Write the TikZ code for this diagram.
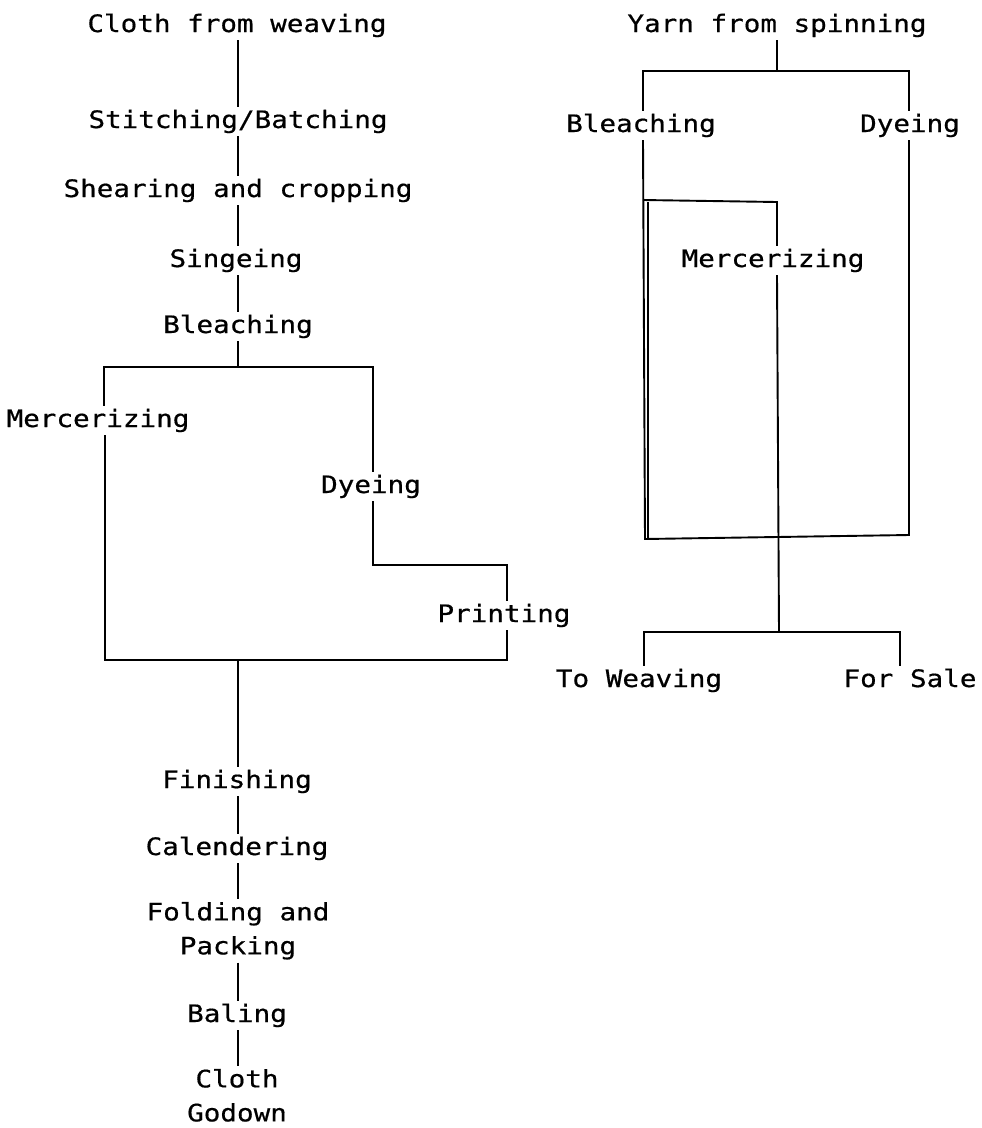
\documentclass[tikz,border=0pt]{standalone}
\usepackage{fontspec}
\newfontfamily\dotfont{DejaVu Sans Mono}[FakeStretch=1.15,FakeBold=0.6]
\begin{document}
\begin{tikzpicture}[x=1pt,y=-1pt,
  lbl/.style={font=\dotfont\fontsize{24}{34}\selectfont, inner sep=0pt, outer sep=3pt, anchor=base},
  lblm/.style={lbl, align=center, anchor=north},
  ln/.style={line width=1.9pt, black}]
\useasboundingbox (0,0) rectangle (982,1128);

% ---------- left flow (cloth) ----------
\coordinate (Lx) at (238,0);
\node[lbl] (cw) at (237,32) {Cloth from weaving};
\node[lbl] (sb) at (238,128) {Stitching/Batching};
\node[lbl] (sc) at (238,197) {Shearing and cropping};
\node[lbl] (sg) at (236,267) {Singeing};
\node[lbl] (bl) at (238,333) {Bleaching};
\node[lbl] (me) at (98,427) {Mercerizing};
\node[lbl] (dy) at (371,493) {Dyeing};
\node[lbl] (pr) at (504,622) {Printing};
\node[lbl] (fi) at (237,788) {Finishing};
\node[lbl] (ca) at (237,855) {Calendering};
\node[lblm] (fp) at (238,899) {Folding and\\Packing};
\node[lbl] (ba) at (237,1022) {Baling};
\node[lblm] (cg) at (237,1066) {Cloth\\Godown};

\coordinate (tl) at (104,367);
\coordinate (tm) at (238,367);
\coordinate (tr) at (373,367);
\coordinate (dl) at (373,565);
\coordinate (dr) at (507,565);
\coordinate (bL) at (105,660);
\coordinate (bM) at (238,660);
\coordinate (bR) at (507,660);

\draw[ln] (cw.south -| Lx) -- (sb.north -| Lx);
\draw[ln] (sb.south -| Lx) -- (sc.north -| Lx);
\draw[ln] (sc.south -| Lx) -- (sg.north -| Lx);
\draw[ln] (sg.south -| Lx) -- (bl.north -| Lx);
\draw[ln] (bl.south -| Lx) -- (tm);
\draw[ln] (me.north -| tl) -- (tl) -- (tr) -- (dy.north -| tr);
\draw[ln] (me.south -| bL) -- (bL) -- (bR) -- (pr.south -| bR);
\draw[ln] (dy.south -| dl) -- (dl) -- (dr) -- (pr.north -| dr);
\draw[ln] (bM) -- (fi.north -| bM);
\draw[ln] (fi.south -| Lx) -- (ca.north -| Lx);
\draw[ln] (ca.south -| Lx) -- (fp.north -| Lx);
\draw[ln] (fp.south -| Lx) -- (ba.north -| Lx);
\draw[ln] (ba.south -| Lx) -- (cg.north -| Lx);

% ---------- right flow (yarn) ----------
\node[lbl] (ys) at (777,32) {Yarn from spinning};
\node[lbl] (yb) at (641,132) {Bleaching};
\node[lbl] (yd) at (910,132) {Dyeing};
\node[lbl] (ym) at (773,267) {Mercerizing};
\node[lbl] (tw) at (639,687) {To Weaving};
\node[lbl] (fs) at (910,687) {For Sale};

\coordinate (yt) at (777,71);
\coordinate (ytl) at (643,71);
\coordinate (ytr) at (909,71);
\coordinate (ybl) at (645,539);
\coordinate (ybr) at (909,535);
\coordinate (mb) at (643,200);
\coordinate (mt) at (777,202);
\coordinate (mb2) at (648,202);
\coordinate (mb3) at (648,539);
\coordinate (sL) at (644,632);
\coordinate (sM) at (779,632);
\coordinate (sR) at (900,632);

\draw[ln] (ys.south -| yt) -- (yt);
\draw[ln] (yb.north -| ytl) -- (ytl) -- (ytr) -- (yd.north -| ytr);
\draw[ln] (yb.south -| ytl) -- (ybl) -- (ybr) -- (yd.south -| ybr);
\draw[ln] (mb) -- (mt) -- (ym.north -| mt);
\draw[ln] (mb2) -- (mb3);
\draw[ln] (ym.south -| mt) -- (sM);
\draw[ln] (tw.north -| sL) -- (sL) -- (sR) -- (fs.north -| sR);
\end{tikzpicture}
\end{document}
